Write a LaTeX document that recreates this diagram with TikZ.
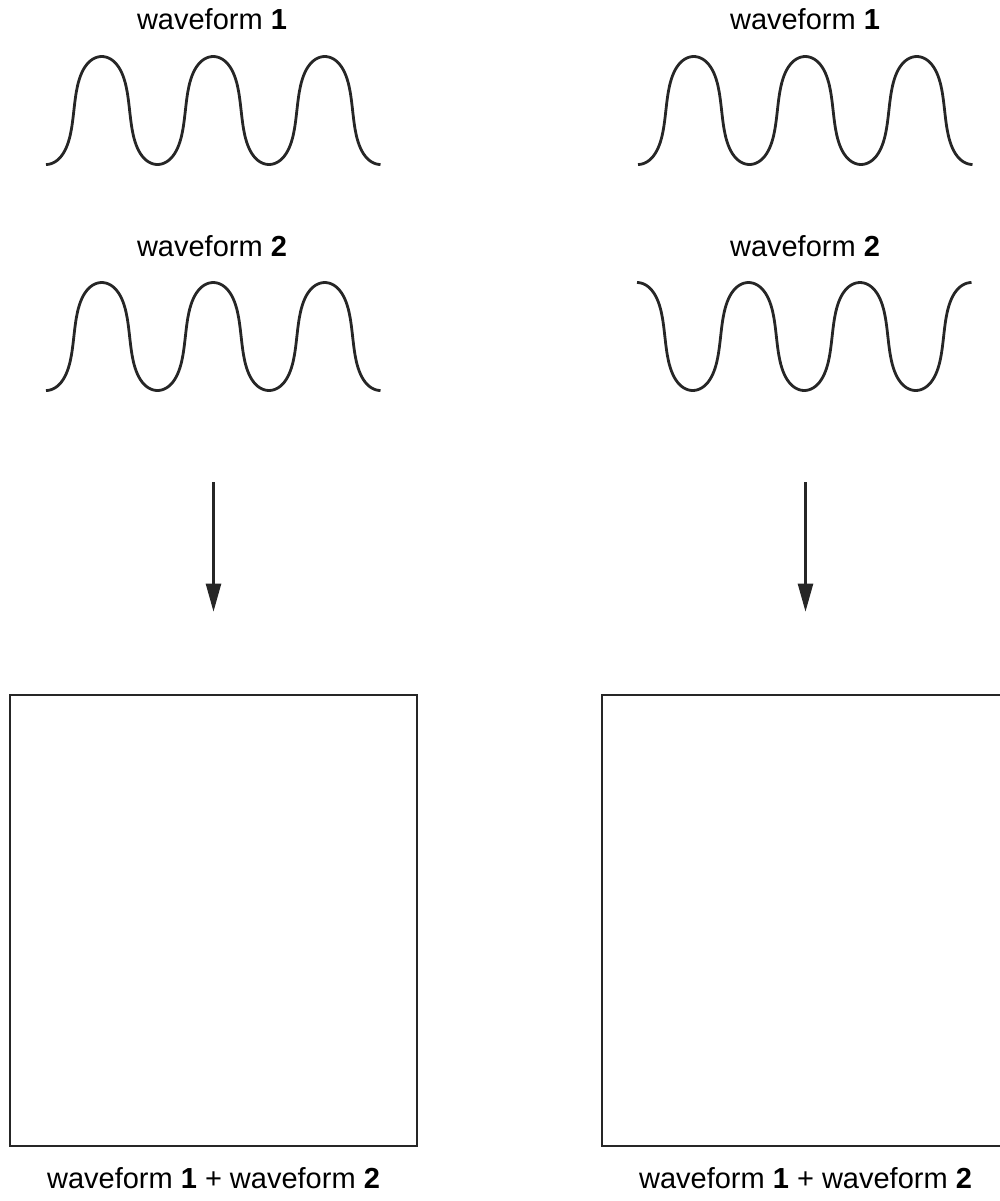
\documentclass[tikz,border=0pt]{standalone}
\usepackage{fontspec}
\setmainfont{Liberation Sans}
\usetikzlibrary{arrows.meta,positioning}

% one waveform: start x, middle y, +1 starts low, -1 starts high
\newcommand{\waveform}[3]{%
  \draw[wavepath] plot[domain=0:1080, samples=241, smooth, variable=\t]
    ({#1 + 111.5*(\t/360 + 0.33*sin(2*\t)/(2*pi))}, {#2 + (#3)*54*cos(\t)});
}

\begin{document}
\begin{tikzpicture}[
x=0.5pt, y=-0.5pt,
lbl/.style={inner sep=0pt, font=\fontsize{14.5}{17}\selectfont},
wavepath/.style={line width=1.4pt, black!85},
sumbox/.style={rectangle, draw=black!85, line width=1.3pt, minimum width=203.5pt, minimum height=225.5pt},
flowarrow/.style={line width=1.2pt, black!85, -{Triangle[length=14pt, width=7.5pt]}, shorten >=41pt},
]
\useasboundingbox (0,0) rectangle (1000,1201);

%Labels
\node[lbl](WaveOneL) at (212,19){waveform \textbf{1}};
\node[lbl](WaveTwoL) at (212,246){waveform \textbf{2}};
\node[lbl](WaveOneR) at (805,19){waveform \textbf{1}};
\node[lbl](WaveTwoR) at (805,246){waveform \textbf{2}};

%Waves
\waveform{46}{110.5}{1}
\waveform{46}{336.5}{1}
\waveform{638}{110.5}{1}
\waveform{637}{336.5}{-1}

%Boxes
\node[sumbox](SumL) at (213.5,920.5){};
\node[sumbox](SumR) at (805.5,920.5){};
\node[lbl](SumTextL)[below=10pt of SumL]{waveform \textbf{1} + waveform \textbf{2}};
\node[lbl](SumTextR)[below=10pt of SumR]{waveform \textbf{1} + waveform \textbf{2}};

%Arrows
\coordinate (InL) at (213.5,482);
\coordinate (InR) at (805.5,482);
\draw[flowarrow] (InL) -- (SumL.north);
\draw[flowarrow] (InR) -- (SumR.north);
\end{tikzpicture}
\end{document}
